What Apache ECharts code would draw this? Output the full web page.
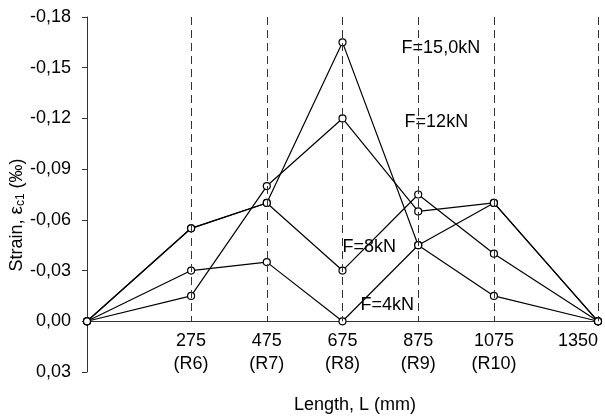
<!DOCTYPE html>
<html>
<head>
<meta charset="utf-8">
<script src="https://cdn.jsdelivr.net/npm/echarts@6/dist/echarts.min.js"></script>
<style>html,body{margin:0;padding:0;background:#fff;}#c{width:605px;height:417px;}</style>
</head>
<body>
<div id="c"></div>
<script>
// ---- data ----
const xValues = [0, 275, 475, 675, 875, 1075, 1350];
const tickValues = [275, 475, 675, 875, 1075, 1350];
const tickSubLabels = ['(R6)', '(R7)', '(R8)', '(R9)', '(R10)', ''];
const seriesNames = ['F=4kN', 'F=8kN', 'F=12kN', 'F=15,0kN'];
const strainF4 = [0, -0.03, -0.035, 0, -0.045, -0.07, 0];
const strainF8 = [0, -0.055, -0.07, -0.03, -0.075, -0.04, 0];
const strainF12 = [0, -0.015, -0.08, -0.12, -0.065, -0.07, 0];
const strainF15 = [0, -0.055, -0.07, -0.165, -0.045, -0.015, 0];
const yMin = -0.18, yMax = 0.03, yStep = 0.03;

// ---- chart ----
const FONT = '"Liberation Sans", Arial, sans-serif';
const allSeries = [strainF4, strainF8, strainF12, strainF15];
const labelIndex = 3; // labels next to the 675 mm point
const labelOffsets = [[14, -16], [-4, -24], [58, 4], [55, 6]];

function fmtY(v) {
  if (Math.abs(v) < 1e-9) v = 0;
  return v.toFixed(2).replace('.', ',');
}

const series = allSeries.map((vals, si) => ({
  name: seriesNames[si],
  type: 'line',
  z: 3,
  symbol: 'circle',
  symbolSize: 7,
  showSymbol: true,
  lineStyle: { color: '#000', width: 1.2 },
  itemStyle: { color: '#fff', borderColor: '#000', borderWidth: 1.2 },
  emphasis: { disabled: true },
  data: vals.map((v, i) => {
    const item = { value: [xValues[i], v] };
    if (i === labelIndex) {
      item.label = {
        show: true,
        formatter: seriesNames[si],
        position: 'right',
        distance: 0,
        offset: labelOffsets[si],
        fontSize: 18,
        fontFamily: FONT,
        color: '#000'
      };
    }
    return item;
  })
}));

// dashed reference lines at the strain gauge positions
series[0].markLine = {
  silent: true,
  symbol: 'none',
  label: { show: false },
  lineStyle: { color: '#333', type: [8, 5], width: 1 },
  data: tickValues.map(x => [{ coord: [x, yMin] }, { coord: [x, 0] }])
};

const chart = echarts.init(document.getElementById('c'), null, { renderer: 'canvas' });
chart.setOption({
  animation: false,
  backgroundColor: '#fff',
  grid: { left: 87, right: 7, top: 17, bottom: 45, containLabel: false, outerBoundsMode: 'none' },
  xAxis: {
    type: 'value',
    min: 0,
    max: 1350,
    axisLine: { show: true, onZero: true, lineStyle: { color: '#333', width: 1 } },
    axisTick: { show: false },
    splitLine: { show: false },
    axisLabel: {
      customValues: tickValues,
      formatter: v => {
        const i = tickValues.indexOf(v);
        return tickSubLabels[i] ? v + '\n' + tickSubLabels[i] : String(v);
      },
      fontSize: 18,
      lineHeight: 23,
      fontFamily: FONT,
      color: '#000',
      margin: -42,
      alignMaxLabel: 'right'
    }
  },
  yAxis: {
    type: 'value',
    inverse: true,
    min: yMin,
    max: yMax,
    interval: yStep,
    axisLine: { show: true, onZero: false, lineStyle: { color: '#333', width: 1 } },
    axisTick: { show: true, length: 5, lineStyle: { color: '#333', width: 1 } },
    splitLine: { show: false },
    axisLabel: { formatter: fmtY, fontSize: 18, fontFamily: FONT, color: '#000', margin: 16 }
  },
  graphic: [
    {
      type: 'text',
      x: 17, y: 215,
      rotation: Math.PI / 2,
      style: {
        text: 'Strain, {e|ε}{sub|c1} (‰)',
        font: '18px ' + FONT,
        fill: '#000',
        align: 'center',
        verticalAlign: 'middle',
        rich: {
          e: { fontSize: 19, fontFamily: FONT, fill: '#000' },
          sub: { fontSize: 12, fontFamily: FONT, fill: '#000', padding: [7, 0, 0, 0] }
        }
      }
    },
    {
      type: 'text',
      x: 355, y: 405,
      style: {
        text: 'Length, L (mm)',
        font: '18px ' + FONT,
        fill: '#000',
        align: 'center',
        verticalAlign: 'middle'
      }
    }
  ],
  series: series
});
</script>
</body>
</html>
